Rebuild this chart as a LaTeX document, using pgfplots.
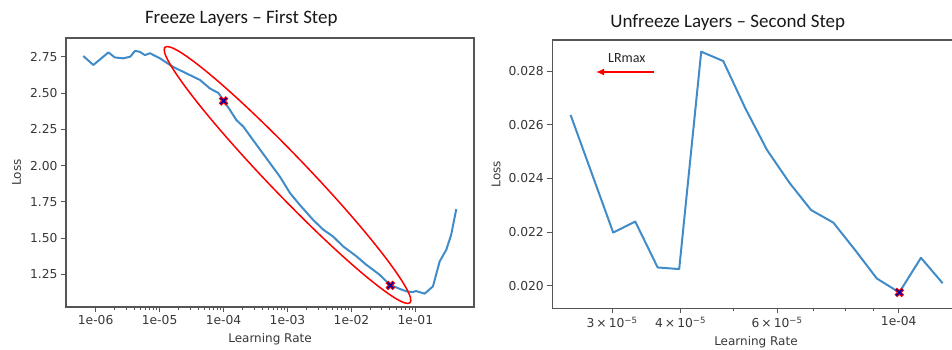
\documentclass[border=0pt]{standalone}
\usepackage{fontspec}
\setmainfont{DejaVu Sans}
\newfontfamily\calibri{Carlito}
\usepackage{pgfplots}
\pgfplotsset{compat=1.18}
\usetikzlibrary{arrows.meta}
\definecolor{lineblue}{RGB}{65,140,200}
\definecolor{spine}{RGB}{85,85,85}
\definecolor{ticktext}{RGB}{55,55,55}
\pgfplotsset{mystyle/.style={
  scale only axis, anchor=south west,
  axis line style={spine, line width=1.4pt},
  every tick/.style={spine, line width=0.9pt},
  tick align=outside, major tick length=5pt, minor tick length=3pt,
  xtick pos=bottom, ytick pos=left,
  tick label style={font=\fontsize{12.3}{14}\selectfont, text=ticktext},
  label style={font=\fontsize{12}{14}\selectfont, text=ticktext},
  /pgf/number format/assume math mode=true,
  scaled y ticks=false,
}}
\begin{document}
\begin{tikzpicture}
\useasboundingbox (0,0) rectangle (952pt,349pt);
% ---------- left panel ----------
\begin{axis}[mystyle, at={(66pt,42pt)}, width=408pt, height=269pt,
  xmode=log, xmin=3.436e-7, xmax=0.826, ymin=1.025, ymax=2.879,
  xtick={1e-6,1e-5,1e-4,1e-3,1e-2,1e-1},
  xticklabels={1e-06,1e-05,1e-04,1e-03,1e-02,1e-01},
  ytick={1.25,1.5,1.75,2,2.25,2.5,2.75},
  yticklabel style={/pgf/number format/fixed, /pgf/number format/fixed zerofill, /pgf/number format/precision=2},
  xlabel={Learning Rate}, ylabel={Loss},
  xlabel style={at={(axis description cs:0.5,-0.119)}, anchor=center},
  ylabel style={at={(axis description cs:-0.121,0.5)}, anchor=center},
]
\addplot[lineblue, line width=2pt, line join=round] coordinates {
(6.41e-7,2.755) (9.20e-7,2.693) (1.585e-6,2.78) (1.995e-6,2.745) (2.69e-6,2.739)
(3.47e-6,2.75) (4.12e-6,2.79) (4.90e-6,2.784) (5.89e-6,2.761) (7.08e-6,2.774)
(1.012e-5,2.739) (1.622e-5,2.68) (2.63e-5,2.635) (4.27e-5,2.59) (6.17e-5,2.53)
(8.32e-5,2.50) (1.012e-4,2.445) (1.259e-4,2.383) (1.585e-4,2.314) (2.04e-4,2.268)
(2.88e-4,2.177) (4.68e-4,2.05) (7.59e-4,1.924) (1.096e-3,1.81) (1.549e-3,1.73)
(2.51e-3,1.626) (3.63e-3,1.558) (5.13e-3,1.512) (7.41e-3,1.443) (1.202e-2,1.374)
(1.698e-2,1.317) (2.75e-2,1.248) (3.98e-2,1.179) (5.69e-2,1.150) (7.24e-2,1.133)
(9.12e-2,1.128) (0.1023,1.135) (0.1396,1.117) (0.1884,1.167) (0.2399,1.339)
(0.3048,1.42) (0.3631,1.523) (0.4365,1.70)
};
\addplot[only marks, mark=x, red, mark size=5pt, line width=3.6pt] coordinates {(1e-4,2.445) (4.07e-2,1.174)};
\addplot[only marks, mark=x, blue!65!black, mark size=4.2pt, line width=1.5pt] coordinates {(1e-4,2.445) (4.07e-2,1.174)};
\end{axis}
\draw[red, line width=1.5pt, rotate around={-46.2:(287.5pt,174pt)}] (287.5pt,174pt) ellipse [x radius=177pt, y radius=19.5pt];
% ---------- right panel ----------
\begin{scope}
\clip (476pt,0pt) rectangle (952pt,349pt);
\begin{axis}[mystyle, at={(552.3pt,40.7pt)}, width=407.7pt, height=268.3pt,
  xmode=log, xmin=2.333e-5, xmax=1.2937e-4, ymin=0.019158, ymax=0.029155,
  xtick={3e-5,4e-5,6e-5,1e-4},
  xticklabels={3\,×\,10\textsuperscript{−5},4\,×\,10\textsuperscript{−5},6\,×\,10\textsuperscript{−5},1e-04},
  minor xtick={5e-5,7e-5,8e-5,9e-5},
  ytick={0.020,0.022,0.024,0.026,0.028},
  yticklabel style={/pgf/number format/fixed, /pgf/number format/fixed zerofill, /pgf/number format/precision=3},
  xlabel={Learning Rate}, ylabel={Loss},
  xlabel style={at={(axis description cs:0.4996,-0.1245)}, anchor=center},
  ylabel style={at={(axis description cs:-0.138,0.5)}, anchor=center},
]
\addplot[lineblue, line width=2pt, line join=round] coordinates {
(2.52e-5,0.02636) (3.014e-5,0.02198) (3.306e-5,0.02239) (3.633e-5,0.02068)
(3.977e-5,0.02062) (4.362e-5,0.02872) (4.785e-5,0.02837) (5.25e-5,0.02661)
(5.75e-5,0.02506) (6.317e-5,0.02384) (6.92e-5,0.02282) (7.6e-5,0.02235)
(8.326e-5,0.02133) (9.12e-5,0.02027) (1.0025e-4,0.01975) (1.098e-4,0.02104)
(1.203e-4,0.02009)
};
\addplot[only marks, mark=x, red, mark size=5pt, line width=3.6pt] coordinates {(1.0025e-4,0.01975)};
\addplot[only marks, mark=x, blue!65!black, mark size=4.2pt, line width=1.5pt] coordinates {(1.0025e-4,0.01975)};
\end{axis}
\end{scope}
\draw[red, line width=1.2pt, -{Latex[length=8pt,width=7pt]}] (653.7pt,277pt) -- (596pt,277pt);
\node[font=\calibri\fontsize{14}{16}\selectfont, text=black!85] at (626.8pt,291.2pt) {LRmax};
% ---------- titles ----------
\node[font=\calibri\fontsize{19}{22}\selectfont, text=black!90] at (241.3pt,330.2pt) {Freeze Layers – First Step};
\node[font=\calibri\fontsize{19}{22}\selectfont, text=black!90] at (727.7pt,326.2pt) {Unfreeze Layers – Second Step};
\end{tikzpicture}
\end{document}
